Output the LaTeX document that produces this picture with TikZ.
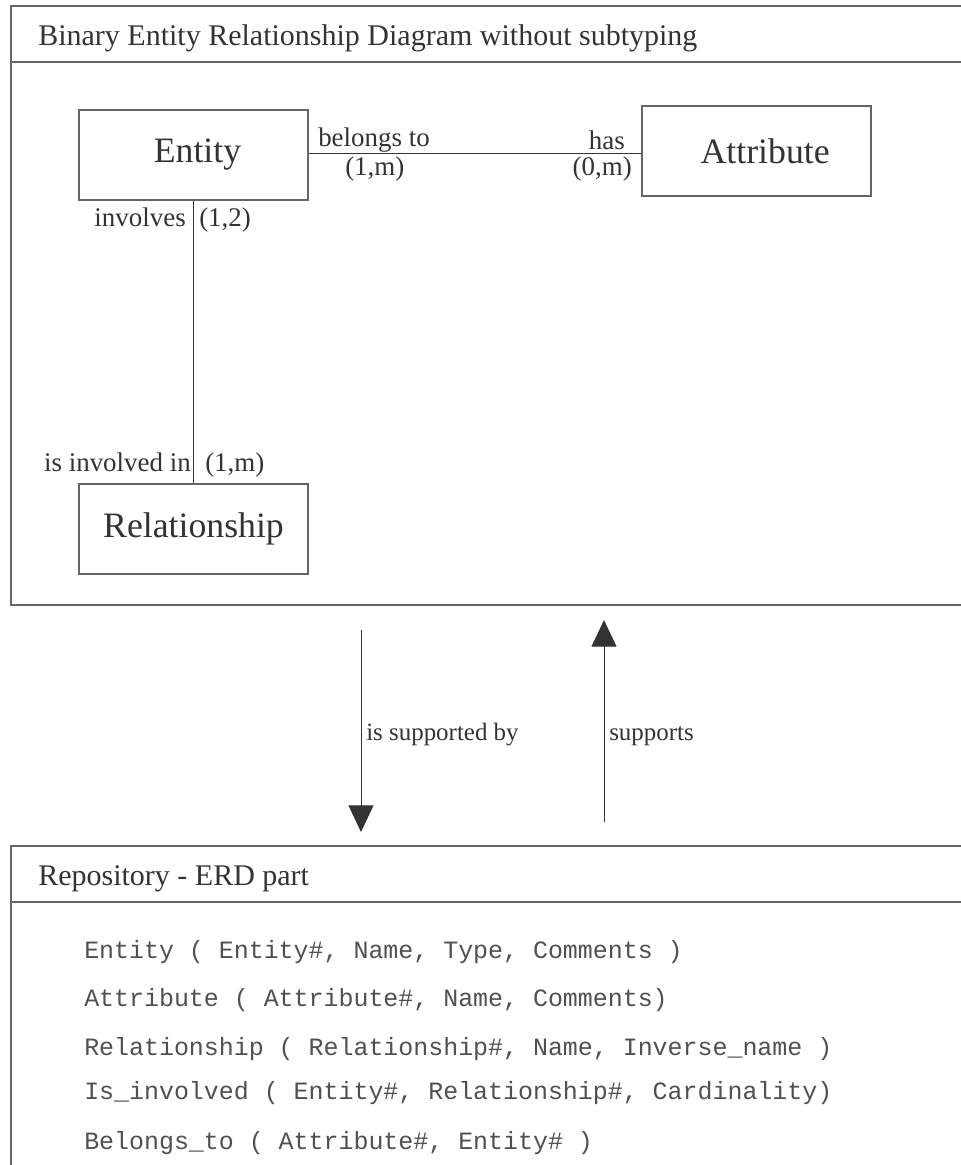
\documentclass[tikz,border=0pt]{standalone}
\usepackage{fontspec}
\setmainfont{Liberation Serif}
\setmonofont{Liberation Mono}
\usetikzlibrary{arrows.meta}
\definecolor{ink}{HTML}{333333}
\definecolor{rule}{HTML}{666666}
\definecolor{code}{HTML}{505050}
\begin{document}
\begin{tikzpicture}[x=0.75pt,y=-0.75pt,
  frame/.style={draw=rule,line width=1.2pt},
  erbox/.style={draw=rule,line width=0.8pt,minimum width=171.75pt,minimum height=67.5pt,
    inner sep=0pt,text=ink,font=\fontsize{26.8pt}{30pt}\selectfont},
  link/.style={draw=ink,line width=0.75pt},
  card/.style={text=ink,inner sep=0pt,font=\fontsize{20.2pt}{24pt}\selectfont},
  heading/.style={text=ink,inner sep=0pt,anchor=base west,font=\fontsize{22.5pt}{26pt}\selectfont},
  flowlabel/.style={text=ink,inner sep=0pt,anchor=base west,font=\fontsize{18.7pt}{22pt}\selectfont},
  flow/.style={draw=ink,line width=0.75pt,-{Triangle[width=18.75pt,length=20pt]}},
  relation/.style={text=code,inner sep=0pt,anchor=base west,font=\ttfamily\fontsize{18.7pt}{22pt}\selectfont}]
\useasboundingbox (0,0) rectangle (961,1165);

% upper panel: the diagram
\draw[frame] (11,6) rectangle (964,605);
\draw[frame] (11,62) -- (964,62);
\node[heading] (erdtitle) at (38,45) {Binary Entity Relationship Diagram without subtyping};

\node[erbox] (entity) at (193.5,155) {\hspace*{6pt}Entity};
\node[erbox] (attribute) at (756.5,151) {\hspace*{13pt}\raisebox{-2pt}{Attribute}};
\node[erbox] (relationship) at (193.5,529) {Relationship};

\draw[link] ([yshift=1.5pt]entity.east) -- ([yshift=1.5pt]entity.east -| attribute.west);
\draw[link] (entity.south) -- (relationship.north);

\node[card,anchor=base west] (belongs) at (318,146) {belongs to};
\node[card,anchor=base west] (belongscard) at (345,175) {(1,m)};
\node[card,anchor=base east] (has) at (625,149) {has};
\node[card,anchor=base east] (hascard) at (632,175) {(0,m)};
\node[card,anchor=base east] (involves) at (186,226) {involves};
\node[card,anchor=base west] (involvescard) at (199,226) {(1,2)};
\node[card,anchor=base east] (involvedin) at (191,471) {is involved in};
\node[card,anchor=base west] (involvedincard) at (205,471) {(1,m)};

% the two directions between the panels
\coordinate (downstart) at (361,630);
\coordinate (downend) at (361,832);
\coordinate (upstart) at (604,822);
\coordinate (upend) at (604,620);
\draw[flow] (downstart) -- (downend);
\draw[flow] (upstart) -- (upend);
\node[flowlabel] (supportedby) at (366,740) {is supported by};
\node[flowlabel] (supports) at (609,740) {supports};

% lower panel: the repository tables
\draw[frame] (11,846) rectangle (964,1170);
\draw[frame] (11,902) -- (964,902);
\node[heading] (repotitle) at (38,885) {Repository - ERD part};

\node[relation] (tentity) at (84,958) {Entity ( Entity\#, Name, Type, Comments )};
\node[relation] (tattribute) at (84,1006) {Attribute ( Attribute\#, Name, Comments)};
\node[relation] (trelationship) at (84,1055) {Relationship ( Relationship\#, Name, Inverse\_name )};
\node[relation] (tinvolved) at (84,1099) {Is\_involved ( Entity\#, Relationship\#, Cardinality)};
\node[relation] (tbelongs) at (84,1149) {Belongs\_to ( Attribute\#, Entity\# )};
\end{tikzpicture}
\end{document}
